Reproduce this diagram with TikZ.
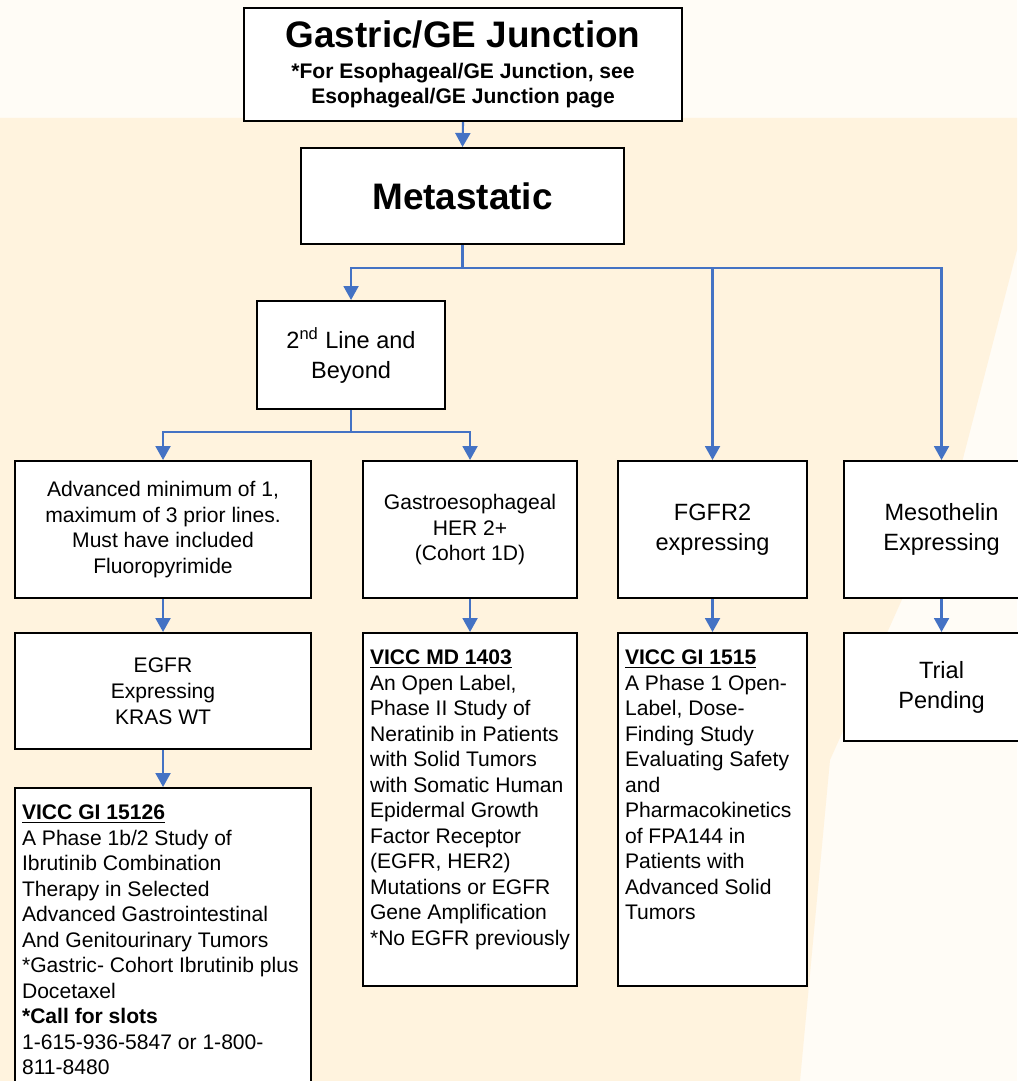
\documentclass[tikz,border=0pt]{standalone}
\usepackage{fontspec}
\setmainfont{Liberation Sans}
\usetikzlibrary{arrows.meta}

\definecolor{linkblue}{RGB}{68,114,196}
\definecolor{wmark}{RGB}{255,243,222}
\definecolor{paper}{RGB}{255,252,246}

% text of a study box, set from the top
\newcommand{\studytext}[3]{\parbox[t][#1][t]{#2}{\raggedright\vspace*{0.2cm}#3}}

\begin{document}
\begin{tikzpicture}
  [
    x = 0.02cm, y = -0.02cm,
    box/.style = {draw, line width = 1.2pt, fill = white, align = center,
        anchor = north west, inner sep = 0pt,
        font = \fontsize{12}{14.5}\selectfont},
    bigbox/.style = {box, font = \fontsize{13.4}{17}\selectfont},
    studybox/.style = {box, align = left, inner sep = 0.14cm},
    link/.style = {draw = linkblue, line width = 1.2pt},
    arrow/.style = {link, -{Triangle[width = 0.3cm, length = 0.28cm]}},
  ]

  % page and watermark
  \fill[paper] (0,0) rectangle (1017,1081);
  \fill[wmark] (0,118) -- (1017,118) -- (1017,250) -- (960,470)
    -- (830,760) -- (800,1081) -- (0,1081) -- cycle;
  \useasboundingbox (0,0) rectangle (1017,1081);

  \node[box, minimum width = 8.76cm, minimum height = 2.26cm] (top) at (243,7)
    {{\fontsize{21}{27}\selectfont\bfseries Gastric/GE Junction}\\[3pt]
     {\bfseries {*}For Esophageal/GE Junction, see}\\
     {\bfseries Esophageal/GE Junction page}};

  \node[box, minimum width = 6.46cm, minimum height = 1.92cm] (meta) at (300,147)
    {\fontsize{21}{25}\selectfont\bfseries Metastatic};

  \node[bigbox, minimum width = 3.76cm, minimum height = 2.16cm] (second) at (256,300)
    {2\textsuperscript{nd} Line and\\ Beyond};

  \node[box, minimum width = 5.92cm, minimum height = 2.74cm] (adv) at (14,460)
    {Advanced minimum of 1,\\ maximum of 3 prior lines.\\ Must have included\\ Fluoropyrimide};
  \node[box, minimum width = 4.28cm, minimum height = 2.74cm] (her) at (362,460)
    {Gastroesophageal\\ HER 2+\\ (Cohort 1D)};
  \node[bigbox, minimum width = 3.78cm, minimum height = 2.74cm] (fgfr) at (617,460)
    {FGFR2\\ expressing};
  \node[bigbox, minimum width = 3.9cm, minimum height = 2.74cm] (meso) at (843,460)
    {Mesothelin\\ Expressing};

  \node[box, minimum width = 5.92cm, minimum height = 2.32cm, font = \fontsize{12}{14.8}\selectfont] (egfr) at (14,632)
    {EGFR\\ Expressing\\ KRAS WT};
  \node[studybox] (md) at (362,632)
    {\studytext{6.78cm}{4.0cm}{\underline{\textbf{VICC MD 1403}}\\
      An Open Label,\\ Phase II Study of\\ Neratinib in Patients\\
      with Solid Tumors\\ with Somatic Human\\ Epidermal Growth\\
      Factor Receptor\\ (EGFR, HER2)\\ Mutations or EGFR\\
      Gene Amplification\\ {*}No EGFR previously}};
  \node[studybox] (gi) at (617,632)
    {\studytext{6.78cm}{3.5cm}{\underline{\textbf{VICC GI 1515}}\\
      A Phase 1 Open-\\ Label, Dose-\\ Finding Study\\ Evaluating Safety\\
      and\\ Pharmacokinetics\\ of FPA144 in\\ Patients with\\
      Advanced Solid\\ Tumors}};
  \node[bigbox, minimum width = 3.9cm, minimum height = 2.16cm] (trial) at (843,632)
    {Trial\\ Pending};

  \node[studybox] (ibru) at (14,787)
    {\studytext{6.5cm}{5.64cm}{\underline{\textbf{VICC GI 15126}}\\
      A Phase 1b/2 Study of\\ Ibrutinib Combination\\ Therapy in Selected\\
      Advanced Gastrointestinal\\ And Genitourinary Tumors\\
      {*}Gastric- Cohort Ibrutinib plus\\ Docetaxel\\
      \textbf{{*}Call for slots}\\ 1-615-936-5847 or 1-800-\\ 811-8480}};

  % connectors
  \draw[arrow] (top.south) -- (meta.north);

  \coordinate (metabus) at ([yshift = -0.46cm]meta.south);
  \draw[link] (meta.south) -- (metabus);
  \foreach \n in {second, fgfr, meso}
    \draw[arrow] (metabus) -| (\n.north);

  \coordinate (secondbus) at ([yshift = -0.44cm]second.south);
  \draw[link] (second.south) -- (secondbus);
  \foreach \n in {adv, her}
    \draw[arrow] (secondbus) -| (\n.north);

  \foreach \a/\b in {adv/egfr, egfr/ibru, her/md, fgfr/gi, meso/trial}
    \draw[arrow] (\a.south) -- (\b.north);

\end{tikzpicture}
\end{document}
